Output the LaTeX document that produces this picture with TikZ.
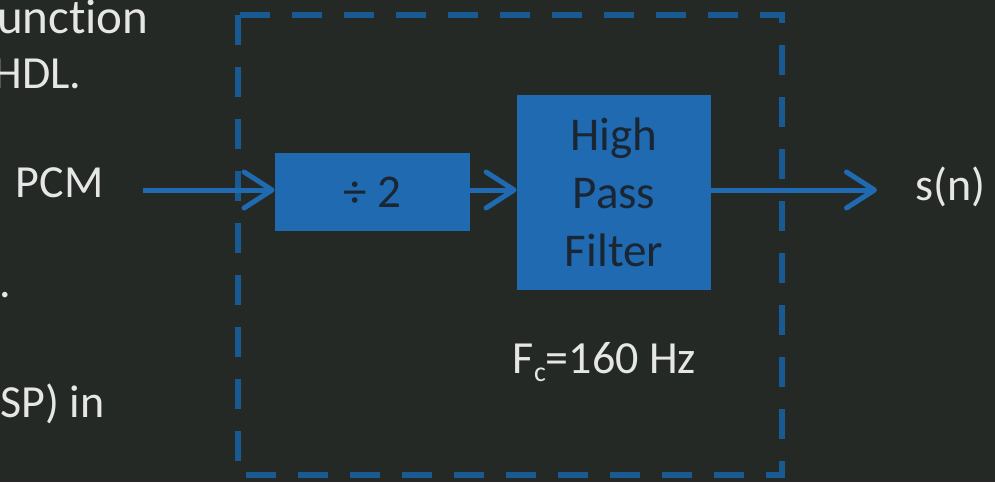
\documentclass[tikz,border=0pt]{standalone}
\usepackage{fontspec}
\setmainfont{Carlito}[Ligatures=NoCommon]
\usetikzlibrary{arrows.meta}
\definecolor{slatebg}{HTML}{252926}
\definecolor{blkblue}{HTML}{1F6AB0}
\definecolor{dashblue}{HTML}{1A5A92}
\definecolor{inktext}{HTML}{E6E6E6}
\definecolor{boxtext}{HTML}{1A2633}
\tikzset{
  blk/.style={fill=blkblue, inner sep=0pt, text=boxtext, align=center,
              font=\fontsize{23.5}{29}\selectfont},
  sig/.style={line width=2.5pt, draw=blkblue,
              -{Straight Barb[length=14pt,width=18pt,round]}},
  frame/.style={draw=dashblue, line width=3pt, dash pattern=on 15pt off 11pt},
  txt/.style={text=inktext, inner sep=0pt, font=\fontsize{23}{27}\selectfont},
}

\begin{document}
\begin{tikzpicture}[x=0.5pt, y=-0.5pt]
  \useasboundingbox (0,0) rectangle (995,482);
  \clip (0,0) rectangle (995,482);
  \fill[slatebg] (0,0) rectangle (995,482);

  % slide text cut off at the left
  \node[txt, anchor=base east, font=\fontsize{24.5}{27}\selectfont] (l1) at (149,33) {unction};
  \node[txt, anchor=base east] (l2) at (82,88) {HDL.};
  \node[txt, anchor=base east] (pcm) at (104,197) {PCM};
  \node[txt, anchor=base east] (l4) at (12,297) {.};
  \node[txt, anchor=base east] (l5) at (105,417) {SP) in};

  % dashed block
  \draw[frame] (238,15) rectangle (782,475);

  \node[blk, minimum width=97.5pt, minimum height=39pt] (div) at (372.5,192) {÷ 2};
  \node[blk, minimum width=97pt, minimum height=97.5pt] (hpf) at (614,192.5) {High\\Pass\\Filter};
  \node[txt, anchor=base] (fc) at (604.5,373)
    {F\raisebox{-4pt}{\fontsize{14}{14}\selectfont c}=160 Hz};

  \coordinate (in) at (143,190);
  \coordinate (out) at (877,190);
  \node[txt, anchor=base west] (sn) at (915,200) {s(n)};

  \draw[sig] (in) -- (in -| div.west);
  \draw[sig] (div.east |- in) -- (hpf.west |- in);
  \draw[sig] (hpf.east |- in) -- (out);
\end{tikzpicture}
\end{document}
